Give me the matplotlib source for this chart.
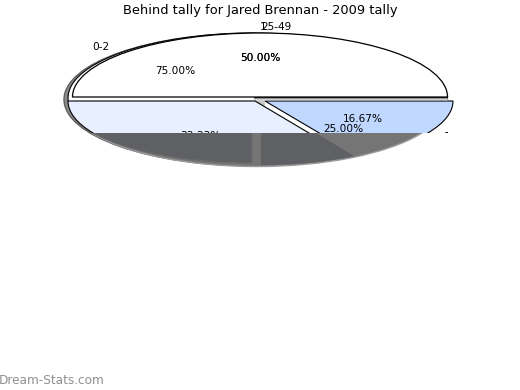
import matplotlib
matplotlib.use("Agg")
import matplotlib.pyplot as plt
from matplotlib.transforms import Bbox

W, H = 520, 390

title = "Behind tally for Jared Brennan - 2009 tally"
watermark = "Dream-Stats.com"

# the chart is a stack of pies, each one only partly visible
top_pie = [50.0, 50.0]
back_pie = [75.0, 25.0]
front_pie = [33.33, 16.67, 50.0]
shadow_left = [25.0, 75.0]
shadow_right = [8.33, 91.67]

category_labels = ["0-2", "25-49", "1"]
pct_labels = ["75.00%", "50.00%", "50.00%", "16.67%", "25.00%"]
clipped_labels = ["33.33%", "1"]

fig = plt.figure(figsize=(W / 100, H / 100), dpi=100, facecolor="white")

above = Bbox([[0, H - 133], [W, H]])
below = Bbox([[0, 0], [W, H - 133]])
apex = Bbox([[255, H - 112], [265, H - 100]])
right_band = Bbox([[254, H - 101], [W, H - 95]])


def draw_pie(cx, cy, rx, ry, values, colors, start, show, clip=None, edge="black", lw=0.8):
    # squashed pie: own axes stretched to the ellipse box
    ax = fig.add_axes([(cx - rx) / W, 1 - (cy + ry) / H, 2 * rx / W, 2 * ry / H])
    wedges, _ = ax.pie(values, colors=colors, startangle=start, counterclock=True,
                       radius=1, wedgeprops={"edgecolor": edge, "linewidth": lw})
    ax.set_aspect("auto")
    ax.set_xlim(-1, 1)
    ax.set_ylim(-1, 1)
    ax.axis("off")
    ax.patch.set_visible(False)
    for i, w in enumerate(wedges):
        w.set_visible(i in show)
        if clip is not None:
            w.set_clip_on(True)
            w.set_clip_box(clip)
        else:
            w.set_clip_on(False)
    return wedges


dark = "#5f6064"
light = "#757575"

# gray rim on the left
draw_pie(255, 99.5, 191, 66.5, [50, 50], ["#8c8c8c", "#8c8c8c"], 90, [0], edge="#606060", lw=1)
# shadow area under the cut
draw_pie(257, 101, 189, 65.5, front_pie, [light, light, light], 180, [0, 1], clip=below, edge="#9a9a9a", lw=1)
draw_pie(252, 100, 187, 63, shadow_left, [dark, dark], 180, [0], clip=below, edge="#6a6a6a", lw=0.8)
draw_pie(261, 100, 187, 65, shadow_right, [dark, dark], 270, [0], clip=below, edge=dark, lw=0)

# back pie, seen on the upper left and in the thin strip
draw_pie(255, 98, 187, 65, back_pie, ["white", "white"], 0, [0, 1], clip=above)
draw_pie(255, 101, 187, 64, front_pie, ["#e8f0ff", "#c8c8c8", "white"], 180, [1], clip=apex, edge="#c8c8c8", lw=0)
draw_pie(255, 101, 187, 64, front_pie, ["#e8f0ff", "#c0d8ff", "white"], 180, [0], clip=above)
draw_pie(265, 101, 188, 64, front_pie, ["#e8f0ff", "#c0d8ff", "white"], 180, [1], clip=above)
draw_pie(260, 100, 187.5, 64, top_pie, ["white", "white"], 0, [0], clip=right_band, edge="#b0b0b0", lw=0.8)
draw_pie(260, 97.8, 187.5, 64, top_pie, ["white", "white"], 0, [0], clip=right_band, lw=0.9)
draw_pie(260, 97, 187.5, 64, top_pie, ["white", "white"], 0, [0], lw=0.9)

overlay = fig.add_axes([0, 0, 1, 1])
overlay.set_xlim(0, W)
overlay.set_ylim(H, 0)
overlay.axis("off")
overlay.patch.set_visible(False)

overlay.text(260, 10.5, title, ha="center", va="center", fontsize=9.4, color="black")
for s, pos in zip(category_labels, [(101, 47), (276, 26.5), (263, 26.5)]):
    overlay.text(pos[0], pos[1], s, ha="center", va="center", fontsize=7.6)
for s, pos in zip(pct_labels, [(175, 70.5), (260, 58), (260, 58), (363, 119.5), (343, 128.5)]):
    overlay.text(pos[0], pos[1], s, ha="center", va="center", fontsize=7.6)
for s, pos in zip(clipped_labels, [(200, 136), (447, 137)]):
    t = overlay.text(pos[0], pos[1], s, ha="center", va="center", fontsize=7.6)
    t.set_clip_on(True)
    t.set_clip_box(above)

overlay.text(-1, 380, watermark, ha="left", va="center", fontsize=8.7, color="#8f8f8f")

fig.savefig("out.png", dpi=100)
